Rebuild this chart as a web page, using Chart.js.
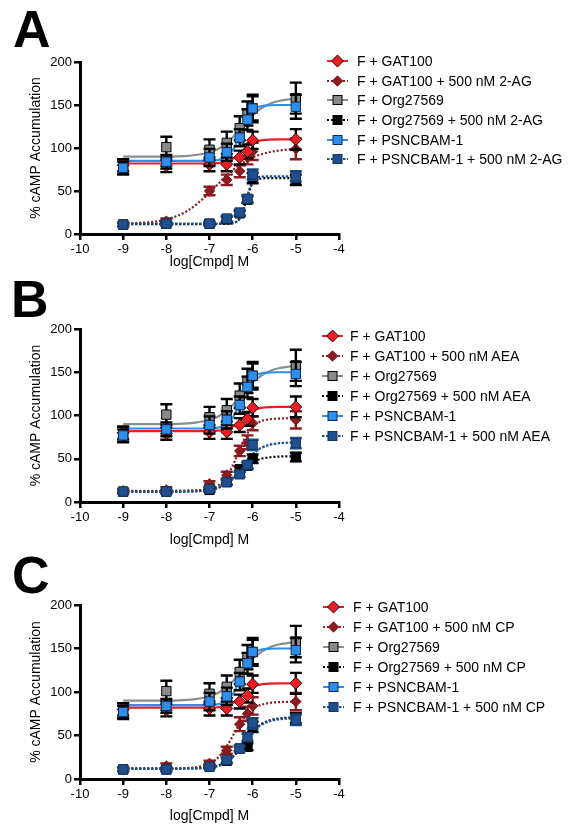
<!DOCTYPE html>
<html>
<head>
<meta charset="utf-8">
<script src="https://cdn.jsdelivr.net/npm/chart.js@4.4.1/dist/chart.umd.min.js"></script>
<style>
html,body{margin:0;padding:0;background:#fff;}
body{width:572px;height:838px;position:relative;overflow:hidden;font-family:"Liberation Sans",Arial,sans-serif;}
.letter{position:absolute;font-weight:bold;font-size:52px;line-height:52px;color:#000;}
.legtxt{position:absolute;font-size:14px;line-height:16px;color:#000;white-space:nowrap;}
.legsvg{position:absolute;}
canvas{position:absolute;left:0;}
</style>
</head>
<body>
<div class="letter" style="left:13px;top:3px;">A</div>
<div class="letter" style="left:11px;top:273px;">B</div>
<div class="letter" style="left:12px;top:549px;">C</div>
<canvas id="cA" width="572" height="280" style="top:0px"></canvas>
<canvas id="cB" width="572" height="280" style="top:280px"></canvas>
<canvas id="cC" width="572" height="278" style="top:560px"></canvas>
<script>
// ---------------- DATA ----------------
const DOSES = [-9, -8, -7, -6.6, -6.3, -6.12, -6, -5];           // log[Cmpd] M
const CURVE_X = [-9, -8, -7.5, -7, -6.8, -6.6, -6.4, -6.3, -6.2, -6.1, -6, -5.9, -5.8, -5.6, -5.4, -5.2, -5];
const X_TICKS = [-10, -9, -8, -7, -6, -5, -4];
const Y_TICKS = [0, 50, 100, 150, 200];
const PANEL_LETTERS = ['A', 'B', 'C'];
const AGONISTS = ['2-AG', 'AEA', 'CP'];
const X_TITLE = 'log[Cmpd] M';
const Y_TITLE = '% cAMP Accumulation';

// control series (same in all panels)
const GAT100_Y   = [80, 79, 81, 81, 89, 96, 109, 110];
const GAT100_ERR = [7, 7, 8, 8, 8, 8, 10, 12];
const GAT100_FIT = [82, 82, 82, 82, 82.5, 84.2, 89.3, 93.6, 98.5, 102.7, 105.8, 107.7, 108.8, 109.7, 110, 110, 110];

const ORG_Y   = [78, 101, 98, 106, 123, 140, 146, 158];
const ORG_ERR = [9, 12, 12, 13, 14, 14, 16, 18];
const ORG_FIT = [90, 90, 90.9, 94.8, 98.9, 105.6, 115.4, 121, 127, 132.6, 137.9, 142.3, 146.2, 151.5, 154.6, 156.2, 157.3];

const PSN_Y   = [77, 84, 89, 95, 112, 133, 146, 148];
const PSN_ERR = [7, 8, 10, 10, 10, 12, 14, 14];
const PSN_FIT = [85, 85, 85, 85, 86, 89.6, 102.9, 114.9, 127.6, 137.7, 143.8, 147.1, 148.7, 149.7, 150, 150, 150];

// Panel A: + 500 nM 2-AG
const A_GAT_Y   = [11, 15, 50, 63, 73, 89, 96, 99];
const A_GAT_ERR = [2, 3, 5, 6, 7, 8, 10, 12];
const A_GAT_FIT = [11.6, 16.9, 27.3, 47.9, 58.1, 68, 76.7, 80.4, 83.7, 86.6, 89, 91, 92.7, 95.3, 97, 98.1, 98.8];
const A_ORG_Y   = [11, 12, 12, 17, 24, 40, 65, 63];
const A_ORG_ERR = [2, 2, 2, 3, 3, 4, 6, 6];
const A_ORG_FIT = [11.5, 11.5, 11.5, 11.5, 11.6, 11.8, 13.5, 18, 30, 47, 59, 63, 64.5, 65, 65, 65, 65];
const A_PSN_Y   = [11, 12, 12, 18, 25, 41, 69, 67];
const A_PSN_ERR = [2, 2, 2, 3, 3, 4, 6, 6];
const A_PSN_FIT = [12, 12, 12, 12, 12, 12.1, 13.7, 18.2, 30.4, 48.7, 60.8, 65.4, 66.6, 67, 67, 67, 67];

// Panel B: + 500 nM AEA
const B_GAT_Y   = [13, 14, 21, 31, 59, 69, 91, 95];
const B_GAT_ERR = [2, 3, 3, 4, 6, 8, 8, 10];
const B_GAT_FIT = [13, 13, 13.3, 15, 18.9, 29, 49, 61, 72, 80.9, 87, 91, 93.6, 95.7, 96.5, 96.8, 97];
const B_ORG_Y   = [12, 12, 14, 23, 38, 42, 50, 52];
const B_ORG_ERR = [2, 2, 2, 3, 3, 4, 5, 5];
const B_ORG_FIT = [12, 12, 12.2, 14, 16.6, 21.9, 30.1, 34.9, 39.3, 43.2, 46.2, 48.4, 50, 51.7, 52.5, 52.8, 52.9];
const B_PSN_Y   = [12, 12, 15, 23, 32, 43, 66, 68];
const B_PSN_ERR = [2, 2, 2, 3, 3, 4, 6, 6];
const B_PSN_FIT = [12, 12, 12.2, 13.7, 16.2, 21.5, 31, 37.2, 43.8, 50, 55.3, 59.5, 62.6, 66.3, 67.9, 68.5, 68.8];

// Panel C: + 500 nM CP
const C_GAT_Y   = [11, 15, 18, 33, 63, 75, 84, 89];
const C_GAT_ERR = [2, 3, 3, 4, 8, 8, 10, 10];
const C_GAT_FIT = [12, 12, 12.6, 17.7, 24.8, 37.7, 54.9, 63.3, 70.5, 76.2, 80.4, 83.4, 85.3, 87.5, 88.3, 88.7, 88.9];
const C_ORG_Y   = [11, 11, 15, 21, 35, 37, 60, 70];
const C_ORG_ERR = [2, 2, 2, 3, 3, 4, 6, 6];
const C_ORG_FIT = [12, 12, 12.1, 13.4, 15.5, 20.1, 28.8, 34.8, 41.5, 48.2, 54.2, 59.2, 63, 67.5, 69.6, 70.4, 70.8];
const C_PSN_Y   = [11, 11, 14, 22, 35, 48, 64, 68];
const C_PSN_ERR = [2, 2, 2, 3, 3, 4, 6, 6];
const C_PSN_FIT = [12, 12, 12.1, 13.2, 15, 19.5, 28.5, 35, 41, 48, 54, 58.8, 62.3, 66.6, 68.6, 69.4, 69.8];

// ---------------- STYLES ----------------
const STYLE = {
  gat:   {shape:'rectRot', r:6,   fill:'#ee1c25', edge:'#2a0000', line:'#ee1c25', dash:[],      err:'#000',    order:3},
  gatAg: {shape:'rectRot', r:5.2, fill:'#8e1b1f', edge:'#7a1418', line:'#8e1b1f', dash:[2,2],   err:'#8e1b1f', order:4},
  org:   {shape:'rect',    r:6.6, fill:'#8a8a8a', edge:'#000',    line:'#8c8c8c', dash:[],      err:'#000',    order:6},
  orgAg: {shape:'rect',    r:6.6, fill:'#000',    edge:'#000',    line:'#000',    dash:[2,2],   err:'#000',    order:5},
  psn:   {shape:'rect',    r:6.6, fill:'#2e8fea', edge:'#0b2a55', line:'#2e8fea', dash:[],      err:'#000',    order:2},
  psnAg: {shape:'rect',    r:6.6, fill:'#1f4f8e', edge:'#15365f', line:'#1f4f8e', dash:[2.5,1.5], err:'#1f4f8e', order:1}
};

const PANEL_LAYOUT = [
  {canvas:'cA', top:62, xH:46, xPad:9.6,  legX:327, legT:357, legY:60.8,  legStep:19.7},
  {canvas:'cB', top:49, xH:58, xPad:11.6, legX:322, legT:350, legY:336,   legStep:20},
  {canvas:'cC', top:45, xH:59, xPad:13.6, legX:323, legT:353, legY:607.3, legStep:20}
];

const PANEL_SERIES = [
  [['gat',GAT100_Y,GAT100_ERR,GAT100_FIT],['gatAg',A_GAT_Y,A_GAT_ERR,A_GAT_FIT],['org',ORG_Y,ORG_ERR,ORG_FIT],['orgAg',A_ORG_Y,A_ORG_ERR,A_ORG_FIT],['psn',PSN_Y,PSN_ERR,PSN_FIT],['psnAg',A_PSN_Y,A_PSN_ERR,A_PSN_FIT]],
  [['gat',GAT100_Y,GAT100_ERR,GAT100_FIT],['gatAg',B_GAT_Y,B_GAT_ERR,B_GAT_FIT],['org',ORG_Y,ORG_ERR,ORG_FIT],['orgAg',B_ORG_Y,B_ORG_ERR,B_ORG_FIT],['psn',PSN_Y,PSN_ERR,PSN_FIT],['psnAg',B_PSN_Y,B_PSN_ERR,B_PSN_FIT]],
  [['gat',GAT100_Y,GAT100_ERR,GAT100_FIT],['gatAg',C_GAT_Y,C_GAT_ERR,C_GAT_FIT],['org',ORG_Y,ORG_ERR,ORG_FIT],['orgAg',C_ORG_Y,C_ORG_ERR,C_ORG_FIT],['psn',PSN_Y,PSN_ERR,PSN_FIT],['psnAg',C_PSN_Y,C_PSN_ERR,C_PSN_FIT]]
];

function legendLabels(ag) {
  return ['F + GAT100', 'F + GAT100 + 500 nM ' + ag, 'F + Org27569', 'F + Org27569 + 500 nM ' + ag, 'F + PSNCBAM-1', 'F + PSNCBAM-1 + 500 nM ' + ag];
}

Chart.defaults.font.family = '"Liberation Sans", Arial, sans-serif';
Chart.defaults.color = '#000';

const errorBars = {
  id: 'errorBars',
  beforeDatasetDraw(chart, args) {
    const ds = chart.data.datasets[args.index];
    if (!ds.errors) return;
    const xs = chart.scales.x, ys = chart.scales.y, ctx = chart.ctx;
    ctx.save();
    ctx.strokeStyle = ds.errorColor;
    ctx.lineWidth = 2.4;
    ds.data.forEach((p, i) => {
      const e = ds.errors[i];
      const px = xs.getPixelForValue(p.x);
      const t = ys.getPixelForValue(p.y + e), b = ys.getPixelForValue(p.y - e);
      ctx.beginPath();
      ctx.moveTo(px, t); ctx.lineTo(px, b);
      ctx.moveTo(px - 6, t); ctx.lineTo(px + 6, t);
      ctx.moveTo(px - 6, b); ctx.lineTo(px + 6, b);
      ctx.stroke();
    });
    ctx.restore();
  }
};

function svgMarker(st) {
  const ns = 'http://www.w3.org/2000/svg';
  const svg = document.createElementNS(ns, 'svg');
  svg.setAttribute('width', '22'); svg.setAttribute('height', '16');
  const ln = document.createElementNS(ns, 'line');
  ln.setAttribute('x1', '0'); ln.setAttribute('x2', '21'); ln.setAttribute('y1', '8'); ln.setAttribute('y2', '8');
  ln.setAttribute('stroke', st.line); ln.setAttribute('stroke-width', '2');
  if (st.dash.length) ln.setAttribute('stroke-dasharray', st.dash.join(','));
  svg.appendChild(ln);
  let m;
  if (st.shape === 'rect') {
    m = document.createElementNS(ns, 'rect');
    m.setAttribute('x', '6'); m.setAttribute('y', '3.5'); m.setAttribute('width', '9'); m.setAttribute('height', '9');
  } else {
    m = document.createElementNS(ns, 'polygon');
    const r = st.r;
    m.setAttribute('points', `${10.5 - r},8 10.5,${8 - r} ${10.5 + r},8 10.5,${8 + r}`);
  }
  m.setAttribute('fill', st.fill); m.setAttribute('stroke', st.edge); m.setAttribute('stroke-width', '1');
  svg.appendChild(m);
  return svg;
}

PANEL_LAYOUT.forEach((L, pi) => {
  const datasets = [];
  PANEL_SERIES[pi].forEach(([key, ys, errs, fit]) => {
    const st = STYLE[key];
    datasets.push({
      label: key + ' fit',
      data: CURVE_X.map((x, i) => ({x, y: fit[i]})),
      showLine: true, borderColor: st.line, borderWidth: st.dash.length ? 2.2 : 2.2, borderDash: st.dash,
      pointRadius: 0, cubicInterpolationMode: 'monotone', order: st.order + 10
    });
    datasets.push({
      label: key,
      data: DOSES.map((x, i) => ({x, y: ys[i]})),
      showLine: false, pointStyle: st.shape, pointRadius: st.r,
      backgroundColor: st.fill, borderColor: st.edge, borderWidth: 1,
      errors: errs, errorColor: st.err, order: st.order
    });
  });

  new Chart(document.getElementById(L.canvas), {
    type: 'scatter',
    data: {datasets},
    plugins: [errorBars],
    options: {
      responsive: false, animation: false, devicePixelRatio: 1,
      layout: {padding: {left: 0, right: 233, top: L.top, bottom: 0}},
      plugins: {legend: {display: false}, tooltip: {enabled: false}},
      scales: {
        x: {
          type: 'linear', min: -10, max: -4,
          afterBuildTicks: s => { s.ticks = X_TICKS.map(v => ({value: v})); },
          afterFit: s => { s.height = L.xH; },
          ticks: {color: '#000', font: {size: 13}, padding: 2, maxRotation: 0, autoSkip: false, callback: v => String(v)},
          grid: {drawOnChartArea: false, drawTicks: true, tickLength: 6, color: '#000', lineWidth: 2.5},
          border: {display: true, color: '#000', width: 3},
          title: {display: true, text: X_TITLE, color: '#000', font: {size: 14}, padding: {top: 0, bottom: L.xPad}}
        },
        y: {
          type: 'linear', min: 0, max: 200,
          afterBuildTicks: s => { s.ticks = Y_TICKS.map(v => ({value: v})); },
          afterFit: s => { s.width = 80; },
          ticks: {color: '#000', font: {size: 13}, padding: 2, callback: v => String(v)},
          grid: {drawOnChartArea: false, drawTicks: true, tickLength: 6, color: '#000', lineWidth: 2.5},
          border: {display: true, color: '#000', width: 3},
          title: {display: true, text: Y_TITLE, color: '#000', font: {size: 14}, padding: {top: 27.6, bottom: 0}}
        }
      }
    }
  });

  // legend
  const labels = legendLabels(AGONISTS[pi]);
  const keys = ['gat', 'gatAg', 'org', 'orgAg', 'psn', 'psnAg'];
  keys.forEach((k, i) => {
    const yc = L.legY + i * L.legStep;
    const svg = svgMarker(STYLE[k]);
    svg.setAttribute('class', 'legsvg');
    svg.style.left = L.legX + 'px'; svg.style.top = (yc - 8) + 'px';
    document.body.appendChild(svg);
    const t = document.createElement('div');
    t.className = 'legtxt';
    t.style.left = L.legT + 'px'; t.style.top = (yc - 8) + 'px';
    t.textContent = labels[i];
    document.body.appendChild(t);
  });
});
</script>
</body>
</html>
